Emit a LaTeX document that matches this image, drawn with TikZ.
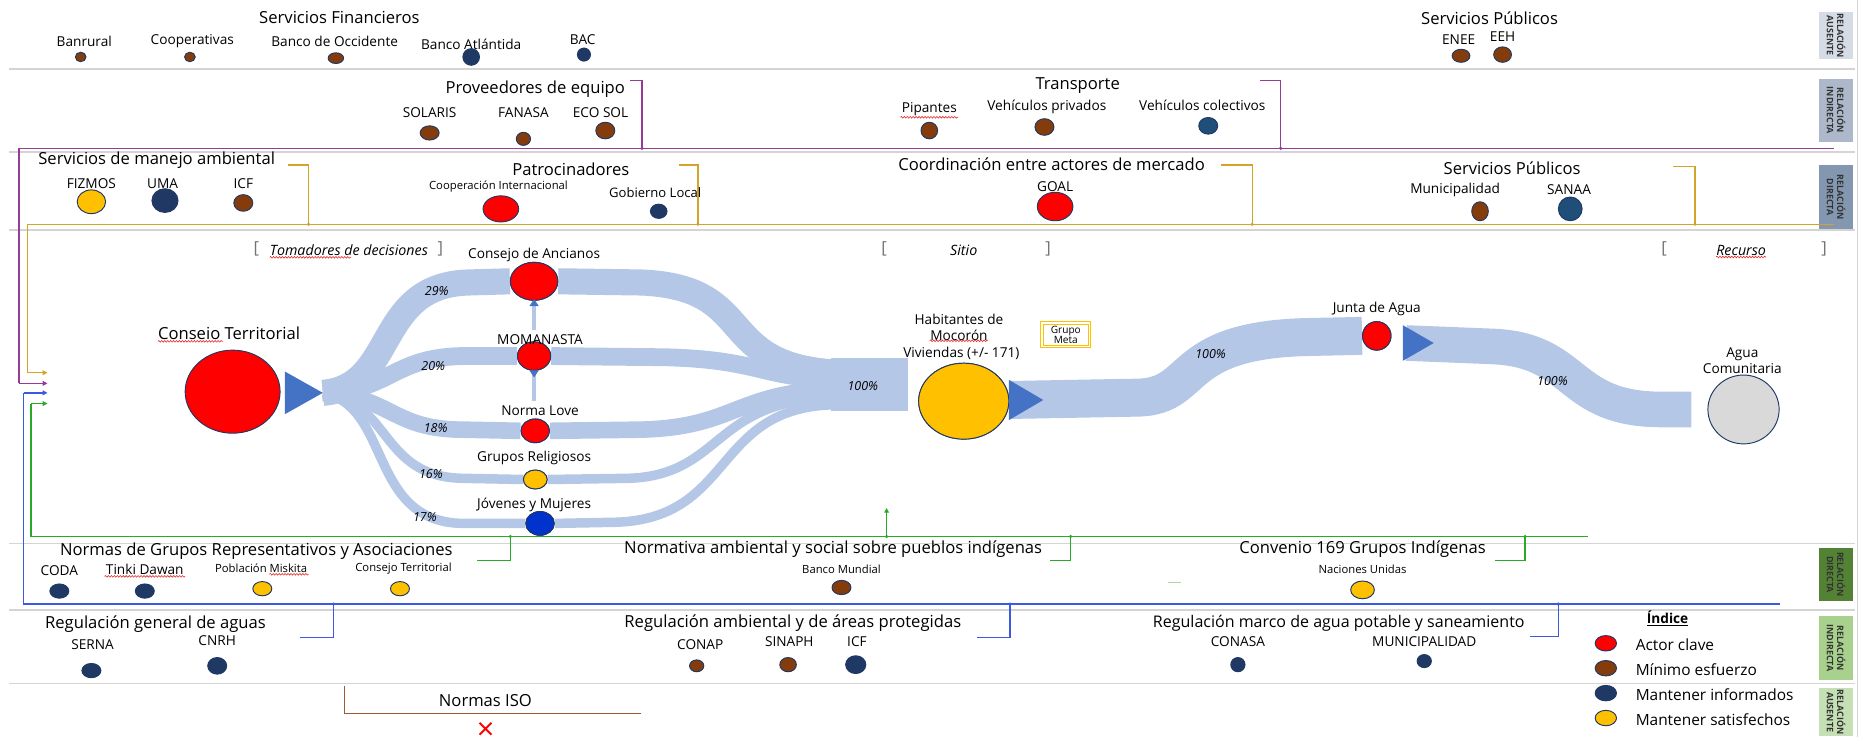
\documentclass[tikz,border=0pt]{standalone}
\usepackage{fontspec}
\setmainfont{Open Sans}
\usetikzlibrary{shapes.geometric,arrows.meta,decorations.pathmorphing}
\definecolor{keyred}{RGB}{255,0,0}
\definecolor{brownc}{RGB}{132,60,12}
\definecolor{navyc}{RGB}{31,56,100}
\definecolor{navy2}{RGB}{31,78,121}
\definecolor{goldc}{RGB}{255,192,0}
\definecolor{edgec}{RGB}{32,56,100}
\definecolor{bandc}{RGB}{180,199,231}
\definecolor{tric}{RGB}{68,114,196}
\definecolor{purplec}{RGB}{150,60,150}
\definecolor{goldl}{RGB}{210,165,40}
\definecolor{bluel}{RGB}{60,90,225}
\definecolor{greenl}{RGB}{40,170,40}
\definecolor{lgreen}{RGB}{170,220,150}
\definecolor{brownl}{RGB}{160,90,50}
\definecolor{sepc}{RGB}{212,212,212}
\definecolor{boxa}{RGB}{214,220,229}
\definecolor{boxb}{RGB}{173,185,202}
\definecolor{boxc}{RGB}{132,151,176}
\definecolor{boxd}{RGB}{84,130,53}
\definecolor{boxe}{RGB}{169,209,142}
\definecolor{boxf}{RGB}{197,224,180}
\definecolor{jovenc}{RGB}{0,51,204}
\definecolor{aguac}{RGB}{217,217,217}
\definecolor{spellc}{RGB}{230,40,40}
\begin{document}
\begin{tikzpicture}[x=1pt,y=-1pt,
  ttl/.style={font=\fontsize{14}{16}\selectfont,inner sep=1pt},
  lbl/.style={font=\fontsize{11.5}{13}\selectfont,inner sep=1pt},
  sml/.style={font=\fontsize{9.5}{11}\selectfont,inner sep=1pt},
  pct/.style={font=\fontsize{10.5}{12}\selectfont\itshape,inner sep=1pt},
  leg/.style={font=\fontsize{13}{15}\selectfont,inner sep=1pt,anchor=west},
  actor/.style={ellipse,draw=edgec,line width=0.8pt,inner sep=0pt},
  actorkey/.style={actor,fill=keyred},
  actormin/.style={actor,fill=brownc},
  actorinf/.style={actor,fill=navyc},
  actorinf2/.style={actor,fill=navy2},
  actorsat/.style={actor,fill=goldc},
  sep/.style={draw=sepc,line width=1.3pt},
  purp/.style={draw=purplec,line width=1.1pt},
  goldline/.style={draw=goldl,line width=1.1pt},
  blueline/.style={draw=bluel,line width=1.1pt},
  greenline/.style={draw=greenl,line width=1.1pt},
  tipa/.style={-{Triangle[length=4pt,width=4pt]}},
  jn/.style={circle,inner sep=0pt,minimum size=3pt},
  band/.style={draw=bandc,line cap=butt},
  sidebox/.style={rotate=-90,align=center,inner sep=0pt,minimum height=29pt,font=\fontsize{7.5}{8.5}\selectfont\bfseries,text=black!80},
  spell/.style={draw=spellc,line width=0.5pt,decorate,decoration={snake,amplitude=0.7pt,segment length=2.5pt}},
  brk/.style={font=\fontsize{14}{16}\selectfont,text=black!55,inner sep=0pt},
  secttl/.style={font=\fontsize{12}{14}\selectfont\itshape,inner sep=1pt}
]
\useasboundingbox (0,0) rectangle (1568,621);

% separators
\foreach \yy in {58,128,194,458,514,576} \draw[sep] (8,\yy) -- (1563,\yy);
\draw[sep] (1565,0) -- (1565,621);

% side boxes
\node[sidebox,fill=boxa,minimum width=40pt] (sbA) at (1547,30) {RELACIÓN\\AUSENTE};
\node[sidebox,fill=boxb,minimum width=53pt] (sbB) at (1547,93) {RELACIÓN\\INDIRECTA};
\node[sidebox,fill=boxc,minimum width=54pt] (sbC) at (1547,166) {RELACIÓN\\DIRECTA};
\node[sidebox,fill=boxd,minimum width=44pt] (sbD) at (1547,484) {RELACIÓN\\DIRECTA};
\node[sidebox,fill=boxe,minimum width=54pt] (sbE) at (1547,546) {RELACIÓN\\INDIRECTA};
\node[sidebox,fill=boxf,minimum width=40pt] (sbF) at (1547,600) {RELACIÓN\\AUSENTE};

% ---------- row 1 ----------
\node[ttl] (tSF) at (286,15) {Servicios Financieros};
\node[lbl] (lBanrural) at (71,35) {Banrural};
\node[lbl] (lCoop) at (162,35) {Cooperativas};
\node[lbl] (lBOcc) at (282,35) {Banco de Occidente};
\node[lbl] (lBAtl) at (397,37) {Banco Atlántida};
\node[lbl] (lBAC) at (491,33) {BAC};
\node[actormin,minimum width=9pt,minimum height=8pt] (dBanrural) at (68,48) {};
\node[actormin,minimum width=9pt,minimum height=8pt] (dCoop) at (160,48) {};
\node[actormin,minimum width=13pt,minimum height=9pt] (dBOcc) at (283,49) {};
\node[actorinf,minimum width=14pt,minimum height=14pt] (dBAtl) at (397,48) {};
\node[actorinf,minimum width=11pt,minimum height=11pt] (dBAC) at (492,46) {};
\node[ttl] (tSP1) at (1255,15) {Servicios Públicos};
\node[lbl] (lENEE) at (1229,33) {ENEE};
\node[lbl] (lEEH) at (1266,31) {EEH};
\node[actormin,minimum width=15pt,minimum height=11pt] (dENEE) at (1231,47) {};
\node[actormin,minimum width=15pt,minimum height=13pt] (dEEH) at (1266,46) {};

% ---------- row 2 ----------
\coordinate (jP1) at (541,125);
\coordinate (jP2) at (1079,125);
\coordinate (pEnd) at (1545,125);
\coordinate (pCorner) at (16,125);
\coordinate (pTurn) at (16,323);
\coordinate (pArrow) at (40,323);
\draw[purp] (pEnd) -- (pCorner) -- (pTurn);
\draw[purp,tipa] (pTurn) -- (pArrow);
\node[ttl] (tProv) at (451,75) {Proveedores de equipo};
\draw[purp] (531,68) -| (jP1);
\node[jn,fill=purplec] at (jP1) {};
\node[lbl] (lSol) at (362,95) {SOLARIS};
\node[lbl] (lFan) at (441,95) {FANASA};
\node[lbl] (lEco) at (506,95) {ECO SOL};
\node[actormin,minimum width=16pt,minimum height=12pt] (dSol) at (362,112) {};
\node[actormin,minimum width=12pt,minimum height=11pt] (dFan) at (441,117) {};
\node[actormin,minimum width=16pt,minimum height=14pt] (dEco) at (510,110) {};
\node[ttl] (tTrans) at (908,72) {Transporte};
\draw[purp] (1062,68) -| (jP2);
\node[jn,fill=purplec] at (jP2) {};
\node[lbl] (lPip) at (783,92) {Pipantes};
\draw[spell] (lPip.south west) -- (lPip.south east);
\node[lbl] (lVP) at (882,90) {Vehículos privados};
\node[lbl] (lVC) at (1013,89) {Vehículos colectivos};
\node[actormin,minimum width=14pt,minimum height=14pt] (dPip) at (783,110) {};
\node[actormin,minimum width=16pt,minimum height=14pt] (dVP) at (880,107) {};
\node[actorinf2,minimum width=16pt,minimum height=14pt] (dVC) at (1018,106) {};

% ---------- row 3 ----------
\coordinate (jG1) at (260,189);
\coordinate (jG2) at (588,189);
\coordinate (jG3) at (1055,189);
\coordinate (jG4) at (1428,189);
\coordinate (gEnd) at (1545,189);
\coordinate (gCorner) at (23,189);
\coordinate (gTurn) at (23,314);
\coordinate (gArrow) at (40,314);
\draw[goldline] (gEnd) -- (gCorner) -- (gTurn);
\draw[goldline,tipa] (gTurn) -- (gArrow);
\node[ttl] (tSMA) at (132,135) {Servicios de manejo ambiental};
\draw[goldline] (243,139) -| (jG1);
\node[lbl] (lFiz) at (77,155) {FIZMOS};
\node[lbl] (lUMA) at (137,155) {UMA};
\node[lbl] (lICF1) at (205,155) {ICF};
\node[actorsat,minimum width=24pt,minimum height=20pt] (dFiz) at (77,170) {};
\node[actorinf,minimum width=22pt,minimum height=20pt] (dUMA) at (139,169) {};
\node[actormin,minimum width=16pt,minimum height=14pt] (dICF1) at (205,171) {};
\node[ttl] (tPat) at (481,143) {Patrocinadores};
\draw[goldline] (572,139) -| (jG2);
\node[sml] (lCI) at (420,157) {Cooperación Internacional};
\node[lbl,font=\fontsize{11}{13}\selectfont] (lGL) at (552,162) {Gobierno Local};
\node[actorkey,minimum width=30pt,minimum height=22pt] (dCI) at (422,176) {};
\node[actorinf,minimum width=14pt,minimum height=12pt] (dGL) at (555,178) {};
\node[ttl] (tCoord) at (886,138) {Coordinación entre actores de mercado};
\draw[goldline] (1029,139) -| (jG3);
\node[lbl] (lGOAL) at (889,157) {GOAL};
\node[actorkey,minimum width=30pt,minimum height=24pt] (dGOAL) at (889,174) {};
\node[ttl] (tSP2) at (1274,142) {Servicios Públicos};
\draw[goldline] (1410,140) -| (jG4);
\node[lbl] (lMun) at (1226,160) {Municipalidad};
\node[lbl] (lSAN) at (1322,160) {SANAA};
\node[actormin,minimum width=14pt,minimum height=16pt] (dMun) at (1247,178) {};
\node[actorinf2,minimum width=20pt,minimum height=20pt] (dSAN) at (1323,176) {};
\foreach \c in {jG1,jG2,jG3,jG4} \node[jn,fill=goldl] at (\c) {};

% ---------- middle ----------
\node[brk] (bTl) at (216,210) {[};
\node[secttl] (tTom) at (294,211) {Tomadores de decisiones};
\node[brk] (bTr) at (371,210) {]};
\node[brk] (bSl) at (745,210) {[};
\node[secttl] (tSit) at (812,211) {Sitio};
\node[brk] (bSr) at (883,210) {]};
\node[brk] (bRl) at (1402,210) {[};
\node[secttl] (tRec) at (1467,211) {Recurso};
\node[brk] (bRr) at (1537,210) {]};
\draw[spell] ([xshift=1pt]tTom.south west) -- ([xshift=-66pt]tTom.south east);
\draw[spell] ([xshift=1pt]tRec.south west) -- ([xshift=-1pt]tRec.south east);

% actors
\node[actorkey,minimum width=80pt,minimum height=70pt] (ct) at (196,330) {};
\node[lbl,font=\fontsize{14}{16}\selectfont] (lct) at (193,281) {Conseio Territorial};
\draw[spell] ([xshift=1pt]lct.south west) -- ([xshift=-66pt]lct.south east);
\coordinate (ctTip) at (272,331);

\node[actorkey,minimum width=40pt,minimum height=32pt] (anc) at (450,237) {};
\node[actorkey,minimum width=28pt,minimum height=24pt] (moma) at (450,300) {};
\node[actorkey,minimum width=24pt,minimum height=20pt] (love) at (451,363) {};
\node[actorsat,minimum width=20pt,minimum height=16pt] (relig) at (451,404) {};
\node[actor,fill=jovenc,minimum width=24pt,minimum height=20pt] (joven) at (455,441) {};

\coordinate (mL) at (700,324);
\coordinate (mR) at (765,324);

% flow bands
\draw[band,line width=22pt] (ctTip) .. controls (335,326) and (315,240) .. (395,238) -- (anc.west);
\draw[band,line width=22pt] (anc.east) -- (540,238) .. controls (640,242) and (600,308) .. (705,314);
\draw[band,line width=15pt] (ctTip) .. controls (330,329) and (330,301) .. (390,300) -- (moma.west);
\draw[band,line width=15pt] (moma.east) -- (560,301) .. controls (640,303) and (640,318) .. (705,320);
\draw[band,line width=14pt] (ctTip) .. controls (330,334) and (330,362) .. (390,362) -- (love.west);
\draw[band,line width=14pt] (love.east) -- (540,362) .. controls (620,360) and (620,330) .. (705,328);
\draw[band,line width=8pt] (ctTip) .. controls (330,338) and (320,402) .. (390,403) -- (relig.west);
\draw[band,line width=8pt] (relig.east) -- (530,403) .. controls (610,400) and (600,336) .. (705,335);
\draw[band,line width=8pt] (ctTip) .. controls (330,342) and (310,440) .. (390,441) -- (joven.west);
\draw[band,line width=8pt] (joven.east) -- (520,440) .. controls (620,436) and (600,342) .. (705,341);
\draw[band,line width=45pt] (mL) -- (mR);

% redraw actors on top
\node[actorkey,minimum width=40pt,minimum height=32pt] at (anc) {};
\node[actorkey,minimum width=28pt,minimum height=24pt] at (moma) {};
\node[actorkey,minimum width=24pt,minimum height=20pt] at (love) {};
\node[actorsat,minimum width=20pt,minimum height=16pt] at (relig) {};
\node[actor,fill=jovenc,minimum width=24pt,minimum height=20pt] at (joven) {};
\fill[tric] (240,313) -- (ctTip) -- (240,349) -- cycle;

% small arrows between circles
\coordinate (aUpTop) at (450,258);
\coordinate (aUpBot) at (450,278);
\coordinate (bUpTop) at (450,318);
\coordinate (bUpBot) at (450,338);
\draw[draw=bandc,line width=3pt] (aUpBot) -- (aUpTop);
\fill[tric] ([xshift=-4pt]aUpTop) -- ([xshift=4pt]aUpTop) -- ([yshift=6pt]aUpTop) -- cycle;
\draw[draw=bandc,line width=3pt] (bUpBot) -- ([yshift=4pt]bUpTop);
\fill[tric] ([xshift=-4pt,yshift=6pt]bUpTop) -- ([xshift=4pt,yshift=6pt]bUpTop) -- (bUpTop) -- cycle;

\node[lbl] (lanc) at (450,215) {Consejo de Ancianos};
\node[lbl] (lmoma) at (455,286) {MOMANASTA};
\node[lbl] (llove) at (455,346) {Norma Love};
\node[lbl] (lrelig) at (450,386) {Grupos Religiosos};
\node[lbl] (ljoven) at (450,425) {Jóvenes y Mujeres};
\node[pct] (p29) at (368,245) {29\%};
\node[pct] (p20) at (365,308) {20\%};
\node[pct] (p18) at (367,361) {18\%};
\node[pct] (p16) at (363,399) {16\%};
\node[pct] (p17) at (358,436) {17\%};
\node[pct] (p100a) at (727,325) {100\%};

% site
\node[actorsat,minimum width=76pt,minimum height=64pt] (hab) at (812,338) {};
\node[lbl,align=center] (lhab) at (808,276) {Habitantes de\\Mocorón};
\draw[spell] ([xshift=14pt,yshift=1pt]lhab.south west) -- ([xshift=-14pt,yshift=1pt]lhab.south east);
\node[lbl] (lviv) at (810,298) {Viviendas (+/- 171)};
\node[draw=goldc,double=white,double distance=1.2pt,line width=0.9pt,minimum width=40pt,minimum height=20pt,inner sep=0pt,align=center,font=\fontsize{8.5}{8.5}\selectfont] (meta) at (898,282) {Grupo\\Meta};

\node[actorkey,minimum width=24pt,minimum height=24pt] (junta) at (1160,283) {};
\node[lbl] (ljunta) at (1160,260) {Junta de Agua};
\node[actor,fill=aguac,minimum width=60pt,minimum height=58pt] (agua) at (1469,345) {};
\node[lbl,align=center] (lagua) at (1468,304) {Agua\\Comunitaria};

\draw[band,line width=32pt] (851,337) -- (960,335) .. controls (1010,333) and (990,287) .. (1100,284) -- (junta.west);
\draw[band,line width=30pt] (1185,289) -- (1260,292) .. controls (1330,296) and (1320,345) .. (1400,345) -- (1425,345);
\node[actorsat,minimum width=76pt,minimum height=64pt] at (hab) {};
\node[actorkey,minimum width=24pt,minimum height=24pt] at (junta) {};
\fill[tric] (850,320) -- (879,337) -- (850,354) -- cycle;
\fill[tric] (1182,274) -- (1208,289) -- (1182,304) -- cycle;
\node[pct] (p100b) at (1020,298) {100\%};
\node[pct] (p100c) at (1308,321) {100\%};

% ---------- bottom: green ----------
\coordinate (jN1) at (430,452);
\coordinate (jN2) at (902,452);
\coordinate (jN3) at (1285,452);
\coordinate (jN4) at (747,452);
\coordinate (nEnd) at (1338,452);
\coordinate (nCorner) at (26,452);
\coordinate (nTurn) at (26,340);
\coordinate (nArrow) at (40,340);
\coordinate (nUp) at (747,428);
\draw[greenline] (nEnd) -- (nCorner) -- (nTurn);
\draw[greenline,tipa] (nTurn) -- (nArrow);
\draw[greenline,tipa] (jN4) -- (nUp);
\draw[greenline] (jN1) |- (402,472);
\draw[greenline] (jN2) |- (885,472);
\draw[greenline] (jN3) |- (1260,472);
\foreach \c in {jN1,jN2,jN3,jN4} \node[jn,fill=greenl] at (\c) {};
\draw[draw=lgreen,line width=1.1pt] (984,491) -- (995,491);

\node[ttl] (tNG) at (216,464) {Normas de Grupos Representativos y Asociaciones};
\node[lbl] (lCODA) at (50,481) {CODA};
\node[lbl] (lTD) at (122,480) {Tinki Dawan};
\draw[spell] (lTD.south west) -- (lTD.south east);
\node[sml] (lPM) at (220,479) {Población Miskita};
\draw[spell] ([xshift=-33pt]lPM.south east) -- (lPM.south east);
\node[sml] (lCT2) at (340,479) {Consejo Territorial};
\node[actorinf,minimum width=16pt,minimum height=12pt] (dCODA) at (50,498) {};
\node[actorinf,minimum width=16pt,minimum height=12pt] (dTD) at (122,498) {};
\node[actorsat,minimum width=16pt,minimum height=12pt] (dPM) at (221,496) {};
\node[actorsat,minimum width=16pt,minimum height=12pt] (dCT2) at (337,496) {};

\node[ttl] (tNA) at (702,463) {Normativa ambiental y social sobre pueblos indígenas};
\node[sml] (lBM) at (709,480) {Banco Mundial};
\node[actormin,minimum width=16pt,minimum height=12pt] (dBM) at (709,495) {};

\node[ttl] (tC169) at (1148,463) {Convenio 169 Grupos Indígenas};
\node[sml] (lNU) at (1148,480) {Naciones Unidas};
\node[actorsat,minimum width=20pt,minimum height=15pt] (dNU) at (1148,497) {};

% ---------- bottom: blue ----------
\coordinate (jB1) at (281,509);
\coordinate (jB2) at (851,509);
\coordinate (jB3) at (1313,509);
\coordinate (bEnd) at (1500,509);
\coordinate (bCorner) at (20,509);
\coordinate (bTurn) at (20,331);
\coordinate (bArrow) at (40,331);
\draw[blueline] (bEnd) -- (bCorner) -- (bTurn);
\draw[blueline,tipa] (bTurn) -- (bArrow);
\draw[blueline] (jB1) |- (253,537);
\draw[blueline] (jB2) |- (823,537);
\draw[blueline] (jB3) |- (1289,536);
\foreach \c in {jB1,jB2,jB3} \node[jn,fill=bluel] at (\c) {};

\node[ttl] (tRG) at (131,526) {Regulación general de aguas};
\node[lbl] (lSER) at (78,543) {SERNA};
\node[lbl] (lCNRH) at (183,540) {CNRH};
\node[actorinf,minimum width=16pt,minimum height=12pt] (dSER) at (77,565) {};
\node[actorinf,minimum width=16pt,minimum height=14pt] (dCNRH) at (183,561) {};

\node[ttl] (tRA) at (668,525) {Regulación ambiental y de áreas protegidas};
\node[lbl] (lCONAP) at (590,543) {CONAP};
\node[lbl] (lSIN) at (665,541) {SINAPH};
\node[lbl] (lICF2) at (722,541) {ICF};
\node[actormin,minimum width=12pt,minimum height=10pt] (dCONAP) at (587,561) {};
\node[actormin,minimum width=14pt,minimum height=12pt] (dSIN) at (664,560) {};
\node[actorinf,minimum width=17pt,minimum height=15pt] (dICF2) at (721,560) {};

\node[ttl,font=\fontsize{13.5}{16}\selectfont] (tRM) at (1128,525) {Regulación marco de agua potable y saneamiento};
\node[lbl] (lCONASA) at (1043,541) {CONASA};
\node[lbl] (lMUN) at (1200,541) {MUNICIPALIDAD};
\node[actorinf,minimum width=12pt,minimum height=12pt] (dCONASA) at (1043,560) {};
\node[actorinf,minimum width=12pt,minimum height=11pt] (dMUN) at (1200,557) {};

% legend
\node[font=\fontsize{11.5}{13}\selectfont\bfseries,inner sep=1pt] (idx) at (1405,521) {\underline{Índice}};
\node[actorkey,minimum width=18pt,minimum height=13pt] (gK) at (1353,542) {};
\node[actormin,minimum width=18pt,minimum height=13pt] (gM) at (1353,563) {};
\node[actorinf,minimum width=18pt,minimum height=13pt] (gI) at (1353,584) {};
\node[actorsat,minimum width=18pt,minimum height=13pt] (gS) at (1353,605) {};
\node[leg] (tK) at (1377,543) {Actor clave};
\node[leg] (tM) at (1377,564) {Mínimo esfuerzo};
\node[leg] (tI) at (1377,585) {Mantener informados};
\node[leg] (tS) at (1377,606) {Mantener satisfechos};

% ---------- absent ----------
\draw[draw=brownl,line width=1.1pt] (290,578) |- (540,601);
\node[ttl] (tISO) at (409,590) {Normas ISO};
\draw[draw=red,line width=1.6pt] (404,609) -- (414,619) (404,619) -- (414,609);
\end{tikzpicture}
\end{document}
